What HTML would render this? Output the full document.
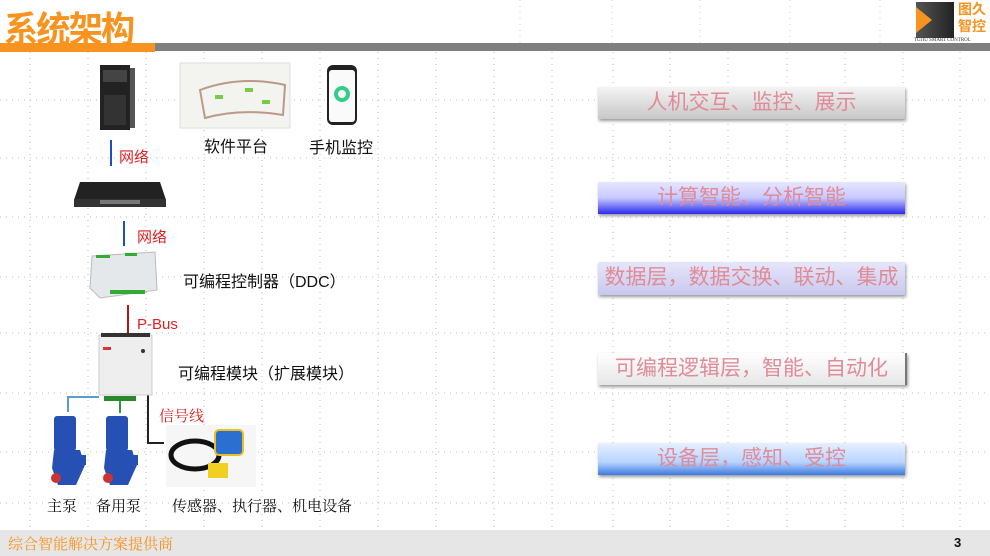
<!DOCTYPE html>
<html><head><meta charset="utf-8"><style>
body{margin:0;width:990px;height:556px;position:relative;overflow:hidden;background:#fff;font-family:"Liberation Sans","Noto Sans CJK SC",sans-serif}
.a{position:absolute}
.box{position:absolute;left:598px;width:307px;height:32px;text-align:center;line-height:32px;font-size:21px;color:#e08b97;box-shadow:1px 2px 3px #999}
.t{position:absolute;font-size:16px;color:#111;white-space:nowrap}
.r{position:absolute;font-size:15px;color:#e02020;white-space:nowrap}
</style></head><body>
<svg class="a" style="left:0;top:0" width="990" height="556">
<g stroke="#bbb" stroke-width="1" stroke-dasharray="1 5">
<line x1="30" y1="52" x2="30" y2="530"/><line x1="88" y1="52" x2="88" y2="530"/><line x1="146" y1="52" x2="146" y2="530"/><line x1="204" y1="52" x2="204" y2="530"/><line x1="262" y1="52" x2="262" y2="530"/><line x1="320" y1="52" x2="320" y2="530"/><line x1="378" y1="52" x2="378" y2="530"/><line x1="436" y1="52" x2="436" y2="530"/><line x1="494" y1="52" x2="494" y2="530"/><line x1="552" y1="52" x2="552" y2="530"/><line x1="613" y1="52" x2="613" y2="530"/><line x1="670" y1="52" x2="670" y2="530"/><line x1="728" y1="52" x2="728" y2="530"/><line x1="787" y1="52" x2="787" y2="530"/><line x1="845" y1="52" x2="845" y2="530"/><line x1="903" y1="52" x2="903" y2="530"/><line x1="960" y1="52" x2="960" y2="530"/>
<line x1="0" y1="100" x2="990" y2="100"/><line x1="0" y1="158" x2="990" y2="158"/><line x1="0" y1="217" x2="990" y2="217"/><line x1="0" y1="277" x2="990" y2="277"/><line x1="0" y1="333" x2="990" y2="333"/><line x1="0" y1="393" x2="990" y2="393"/><line x1="0" y1="452" x2="990" y2="452"/><line x1="0" y1="503" x2="990" y2="503"/>
</g>
<g stroke="#ccc" stroke-dasharray="1 5"><line x1="520" y1="0" x2="520" y2="43"/><line x1="612" y1="0" x2="612" y2="43"/><line x1="700" y1="0" x2="700" y2="43"/><line x1="790" y1="0" x2="790" y2="43"/><line x1="880" y1="0" x2="880" y2="43"/></g>
<line x1="111" y1="140" x2="111" y2="166" stroke="#1f4fbf" stroke-width="2"/>
<line x1="124" y1="221" x2="124" y2="246" stroke="#1f4fbf" stroke-width="2"/>
<line x1="128" y1="305" x2="128" y2="333" stroke="#b01818" stroke-width="2"/>
<polyline points="68,412 68,397 99,397" fill="none" stroke="#5b9bd5" stroke-width="2"/>
<line x1="120" y1="397" x2="120" y2="413" stroke="#2a9a3a" stroke-width="2"/>
<polyline points="148,395 148,443 164,443" fill="none" stroke="#222" stroke-width="2"/>
<rect x="100" y="65" width="30" height="65" fill="#222"/><rect x="130" y="68" width="5" height="60" fill="#555"/>
<rect x="103" y="70" width="24" height="12" fill="#444"/><rect x="104" y="95" width="22" height="30" fill="#333"/>
<rect x="180" y="63" width="110" height="65" fill="#f3f3f0" stroke="#ddd"/>
<path d="M200 90 Q240 75 285 85 L283 115 Q240 108 205 118 Z" fill="none" stroke="#b98" stroke-width="2"/>
<rect x="215" y="95" width="8" height="4" fill="#7c4"/><rect x="245" y="88" width="8" height="4" fill="#7c4"/><rect x="262" y="100" width="8" height="4" fill="#7c4"/>
<rect x="327" y="65" width="30" height="60" rx="6" fill="#222"/><rect x="329" y="70" width="26" height="52" rx="3" fill="#fafafa"/>
<circle cx="342" cy="94" r="6" fill="none" stroke="#3c8" stroke-width="4"/>
<path d="M80 182 L160 182 L166 200 L74 200 Z" fill="#222"/><rect x="74" y="199" width="92" height="8" fill="#333"/>
<rect x="100" y="200" width="40" height="4" fill="#777"/>
<path d="M92 256 L155 252 L157 290 L100 298 L90 288 Z" fill="#e4e8ea" stroke="#bbb"/>
<rect x="96" y="255" width="14" height="3" fill="#3a3"/><rect x="125" y="253" width="12" height="3" fill="#3a3"/><rect x="110" y="290" width="35" height="4" fill="#3a3"/>
<rect x="99" y="335" width="53" height="60" fill="#eeeeee" stroke="#ccc"/>
<rect x="101" y="333" width="49" height="4" fill="#333"/>
<rect x="103" y="347" width="8" height="3" fill="#d33"/><circle cx="143" cy="351" r="2" fill="#333"/>
<rect x="104" y="396" width="32" height="5" fill="#2a8a2a"/>
<g fill="#2750b5"><rect x="54" y="416" width="22" height="35" rx="3"/><path d="M54 450 L80 450 L85 465 L76 485 L58 485 L52 468 Z"/><rect x="76" y="455" width="10" height="10"/><circle cx="56" cy="478" r="5" fill="#c33"/></g>
<g fill="#2750b5"><rect x="106" y="416" width="22" height="35" rx="3"/><path d="M106 450 L132 450 L137 465 L128 485 L110 485 L104 468 Z"/><rect x="128" y="455" width="10" height="10"/><circle cx="108" cy="478" r="5" fill="#c33"/></g>
<rect x="166" y="425" width="90" height="62" fill="#f6f6f6"/>
<ellipse cx="195" cy="455" rx="24" ry="14" fill="none" stroke="#111" stroke-width="5"/>
<rect x="215" y="430" width="28" height="25" rx="4" fill="#2b6fd0" stroke="#e8c020" stroke-width="2"/>
<rect x="208" y="463" width="20" height="15" fill="#f0d020"/>
</svg>
<div class="a" style="left:4px;top:1px;font-size:36px;font-weight:bold;color:#f7931e;transform:scaleX(0.95);transform-origin:left;letter-spacing:-2px">系统架构</div>
<div class="a" style="left:0;top:43px;width:155px;height:9px;background:#f7931e"></div>
<div class="a" style="left:155px;top:43px;width:835px;height:8px;background:#7f7f7f"></div>
<div class="a" style="left:916px;top:2px;width:38px;height:36px;background:linear-gradient(90deg,#555,#222)"></div>
<div class="a" style="left:916px;top:7px;width:0;height:0;border-top:13px solid transparent;border-bottom:13px solid transparent;border-left:16px solid #f7931e"></div>
<div class="a" style="left:958px;top:1px;font-size:14px;line-height:17px;color:#f7931e;font-weight:bold">图久<br>智控</div>
<div class="a" style="left:914px;top:38px;font-size:5px;color:#333;font-family:'Liberation Serif',serif">TUJIU SMART CONTROL</div>

<div class="box" style="top:87px;background:linear-gradient(#f4f4f4,#c8c8c8)">人机交互、监控、展示</div>
<div class="box" style="top:182px;background:linear-gradient(#e6e6ff 0%,#c8c8ff 50%,#2a2aee 100%)">计算智能、分析智能</div>
<div class="box" style="top:262px;height:33px;background:linear-gradient(#e6e6fa,#c8c8ee)">数据层，数据交换、联动、集成</div>
<div class="box" style="top:353px;background:linear-gradient(#fff,#e6e6e6);border-right:2px solid #777">可编程逻辑层，智能、自动化</div>
<div class="box" style="top:443px;background:linear-gradient(#e6f0ff,#b8d4ff 60%,#3c7ae0)">设备层，感知、受控</div>

<div class="r" style="left:119px;top:146px">网络</div>
<div class="r" style="left:137px;top:226px">网络</div>
<div class="r" style="left:137px;top:316px;font-size:15px">P-Bus</div>
<div class="r" style="left:159px;top:405px;font-family:'Liberation Serif','Noto Serif CJK SC',serif">信号线</div>
<div class="t" style="left:204px;top:133px">软件平台</div>
<div class="t" style="left:309px;top:134px">手机监控</div>
<div class="t" style="left:183px;top:268px">可编程控制器（DDC）</div>
<div class="t" style="left:178px;top:360px">可编程模块（扩展模块）</div>
<div class="t" style="left:47px;top:495px;font-size:15px;font-family:'Liberation Serif','Noto Serif CJK SC',serif">主泵</div>
<div class="t" style="left:96px;top:495px;font-size:15px;font-family:'Liberation Serif','Noto Serif CJK SC',serif">备用泵</div>
<div class="t" style="left:172px;top:495px;font-size:15px;font-family:'Liberation Serif','Noto Serif CJK SC',serif">传感器、执行器、机电设备</div>

<div class="a" style="left:0;top:530px;width:990px;height:26px;background:#e6e6e6"></div>
<div class="a" style="left:8px;top:533px;font-size:15px;color:#f7931e;font-family:'Liberation Serif','Noto Serif CJK SC',serif">综合智能解决方案提供商</div>
<div class="a" style="left:954px;top:535px;font-size:13px;font-weight:bold;color:#111">3</div>
</body></html>
